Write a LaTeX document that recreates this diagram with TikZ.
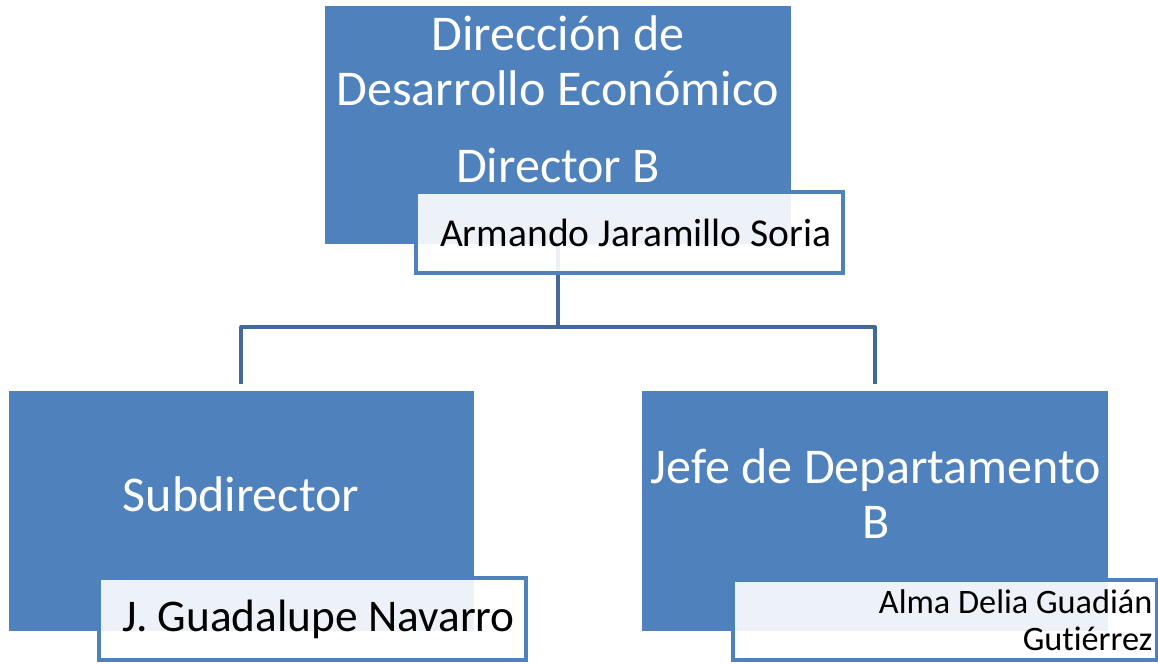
\documentclass[tikz,border=0pt]{standalone}
\usepackage{fontspec}
\setmainfont{Carlito}[Ligatures=NoCommon]
\definecolor{cajaazul}{HTML}{4F81BD}
\definecolor{lineaazul}{HTML}{41699C}
\tikzset{
  caja/.style={rectangle, fill=cajaazul, anchor=north west, inner sep=0pt, outer sep=0pt},
  nombre/.style={rectangle, draw=cajaazul, line width=2.1pt, fill=white, fill opacity=0.9, text opacity=1,
    anchor=north west, inner sep=0pt, outer sep=0pt, text=black},
  titulo/.style={text=white, font=\fontsize{28.5}{31.3}\selectfont, align=center},
  conector/.style={draw=lineaazul, line width=2.3pt, line join=round}
}
\begin{document}
\begin{tikzpicture}[x=0.02cm, y=-0.02cm]
    \useasboundingbox (0,0) rectangle (1158,663);
    % Cajas principales
    \node[caja, minimum width=9.32cm, minimum height=4.76cm] (dir) at (325,6) {};
    \node[caja, minimum width=9.3cm, minimum height=4.8cm] (sub) at (9,391) {};
    \node[caja, minimum width=9.32cm, minimum height=4.8cm] (jefe) at (642,391) {};
    % Titulos
    \node[titulo] (tdir) at (558,61) {Dirección de\\Desarrollo Económico};
    \node[titulo] (tdirb) at (558,165) {Director B};
    \node[titulo] (tsub) at (241,494) {Subdirector};
    \node[titulo] (tjefe) at (876,494) {Jefe de Departamento\\B};
    % Conectores
    \draw[conector] (dir.south) -- ++(0,83) coordinate (bus);
    \draw[conector, shorten >=0.14cm] (bus) -| (sub.north);
    \draw[conector, shorten >=0.14cm] (bus) -| (jefe.north);
    % Nombres
    \node[nombre, minimum width=8.54cm, minimum height=1.62cm, font=\fontsize{22.5}{24}\selectfont] (ndir) at (416,192) {\hspace{0.25cm}Armando Jaramillo Soria};
    \node[nombre, minimum width=8.54cm, minimum height=1.64cm, font=\fontsize{25.8}{27}\selectfont] (nsub) at (99,578) {\hspace{0.24cm}J. Guadalupe Navarro};
    \node[nombre, minimum width=8.48cm, minimum height=1.6cm, font=\fontsize{19.5}{21.2}\selectfont,
      text width=8.3cm, align=flush right] (njefe) at (733,580) {Alma Delia Guadián\\Gut\kern0pt iérrez};
\end{tikzpicture}
\end{document}
